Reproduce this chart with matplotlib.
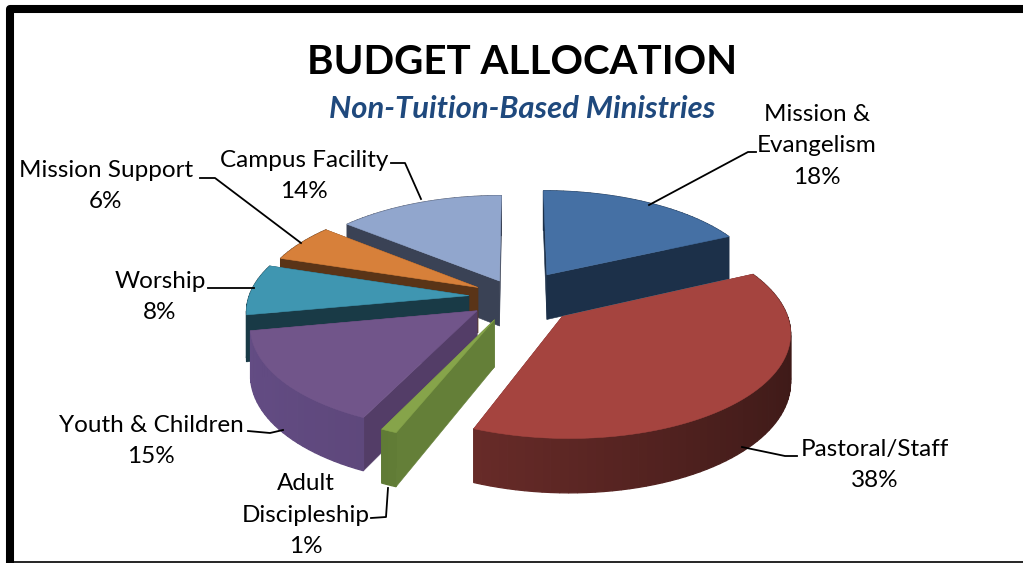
import numpy as np
import matplotlib
matplotlib.use('Agg')
import matplotlib.pyplot as plt
from matplotlib.patches import Polygon

plt.rcParams['font.family'] = ['Lato', 'DejaVu Sans']

categories = ['Mission &\nEvangelism', 'Pastoral/Staff', 'Adult\nDiscipleship', 'Youth & Children',
              'Worship', 'Mission Support', 'Campus Facility']
values = [18, 38, 1, 15, 8, 6, 14]
explode = [0.27, 0.28, 0.24, 0.22, 0.215, 0.20, 0.18]

top_colors = ['#4570a4', '#a5443f', '#86a44a', '#71558a', '#3f96b1', '#d7803a', '#91a6cd']
edge_colors = ['#1c3049', '#6e2c2a', '#647f38', '#533d67', '#193a46', '#5a3417', '#3a4255']
# outer wall goes from first colour to second, clockwise is right to left on the front
wall_right = ['#1c3049', '#3e1a18', '#647f38', '#533d67', '#193a46', '#5a3417', '#3a4255']
wall_left = ['#1c3049', '#7c3330', '#5f7a35', '#634c84', '#193a46', '#5a3417', '#3a4255']

# label text position (px), and leader line (px)
label_pos = [(817, 146), (875, 465), (306, 515), (151, 441), (160, 297), (106, 186), (304, 176)]
leaders = [[(649, 205), (748, 152), (756, 152)],
           [(742, 447), (785, 456), (797, 456)],
           [(388, 488), (386, 517), (371, 518)],
           [(283, 430), (270, 433), (248, 431)],
           [(254, 288), (208, 288)],
           [(301, 243), (215, 178), (200, 178)],
           [(421, 199), (405, 163), (391, 163)]]

CX, CY = 516, 297
R = 220
TILT = 0.456
PERSP = 0.13
DEPTH = 46


def project(x, y, z=0.0):
    w = 1.0 / (1.0 - PERSP * y)
    return CX + R * x * w, CY + R * TILT * y * w + DEPTH * z * w


def hex_mix(c1, c2, t):
    a = np.array(matplotlib.colors.to_rgb(c1))
    b = np.array(matplotlib.colors.to_rgb(c2))
    return tuple(a + (b - a) * t)


fig = plt.figure(figsize=(10.23, 5.63), dpi=100)
ax = fig.add_axes([0, 0, 1, 1])
ax.set_xlim(0, 1023)
ax.set_ylim(563, 0)
ax.axis('off')

# frame
ax.plot([10, 10, 1040], [580, 9, 9], color='black', lw=5.8, solid_joinstyle='round')
ax.plot([10, 1023], [561.5, 561.5], color='black', lw=1.2)

fracs = np.array(values) / sum(values)
ends = np.cumsum(fracs) * 2 * np.pi
starts = ends - fracs * 2 * np.pi

# back slices first, so the front ones paint over them
order = [6, 0, 5, 4, 3, 2, 1]
for i in order:
    a0, a1 = starts[i], ends[i]
    mid = (a0 + a1) / 2
    ox, oy = explode[i] * np.sin(mid), -explode[i] * np.cos(mid)
    ang = np.linspace(a0, a1, max(int((a1 - a0) * 30), 4))
    xs = ox + np.sin(ang)
    ys = oy - np.cos(ang)

    # radial walls
    for a in sorted([a0, a1], key=lambda v: -np.cos(v)):
        ex, ey = ox + np.sin(a), oy - np.cos(a)
        pts = [project(ox, oy), project(ex, ey), project(ex, ey, 1), project(ox, oy, 1)]
        ax.add_patch(Polygon(pts, closed=True, fc=edge_colors[i], ec=edge_colors[i], lw=0.4))

    # outer wall, one strip per step so it can shade across
    for j in range(len(ang) - 1):
        t = (np.sin(ang[j]) + 1) / 2
        col = hex_mix(wall_left[i], wall_right[i], t)
        pts = [project(xs[j], ys[j]), project(xs[j + 1], ys[j + 1]),
               project(xs[j + 1], ys[j + 1], 1), project(xs[j], ys[j], 1)]
        ax.add_patch(Polygon(pts, closed=True, fc=col, ec=col, lw=0.9))

    top = [project(ox, oy)] + [project(x, y) for x, y in zip(xs, ys)]
    ax.add_patch(Polygon(top, closed=True, fc=top_colors[i], ec=top_colors[i], lw=0.4))

# leader lines and labels
for i, name in enumerate(categories):
    lx, ly = zip(*leaders[i])
    ax.plot(lx, ly, color='black', lw=1.3)
    ax.text(label_pos[i][0], label_pos[i][1], '%s\n%d%%' % (name, values[i]), ha='center', va='center',
            fontsize=17.5, color='black', linespacing=1.62)

ax.text(522, 62, 'BUDGET ALLOCATION', ha='center', va='center', fontsize=29, fontweight='bold', color='black')
ax.text(522, 109, 'Non-Tuition-Based Ministries', ha='center', va='center', fontsize=22.3, fontweight='bold',
        fontstyle='italic', color='#1f497d')

fig.savefig('out.png', dpi=100)
